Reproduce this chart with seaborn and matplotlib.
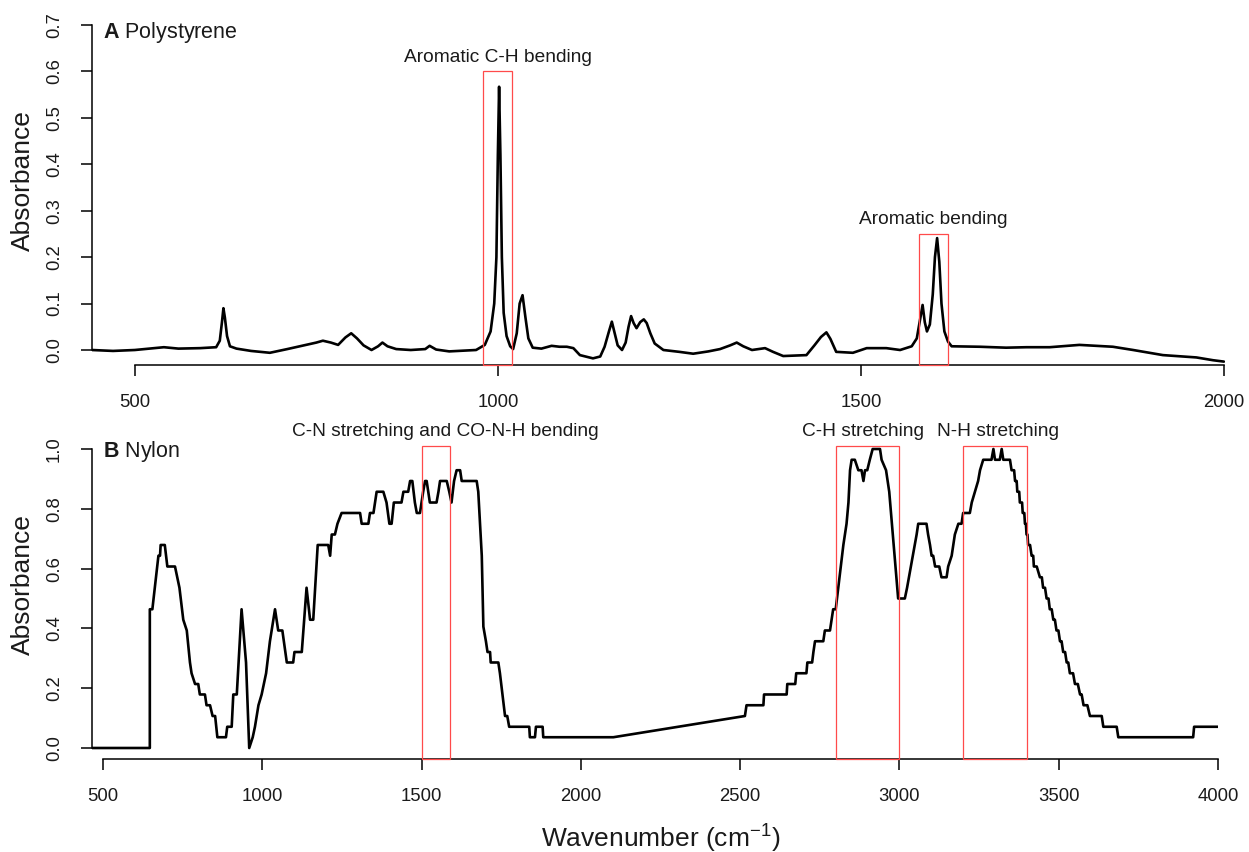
import matplotlib
matplotlib.use("Agg")
import matplotlib.pyplot as plt
import seaborn as sns
from matplotlib.patches import Rectangle

# ---------------- data: (A) polystyrene ----------------
ps_wavenumber = [441, 470, 500, 520, 540, 560, 590, 612, 617, 620, 622, 624, 627, 631, 640, 660,
                 686, 710, 736, 750, 759, 770, 780, 790, 798, 806, 815, 826, 835, 841, 848, 860,
                 880, 900, 906, 915, 933, 970, 982, 990, 995, 998, 1000, 1001.7, 1003.5, 1005.5,
                 1008, 1012, 1017, 1021, 1026, 1030, 1034, 1038, 1042, 1048, 1060, 1074, 1085,
                 1095, 1104, 1113, 1131, 1141, 1147, 1153, 1157, 1161, 1165, 1171, 1176, 1180,
                 1183.5, 1187, 1191, 1196, 1201, 1205, 1210, 1216, 1228, 1250, 1269, 1290, 1306,
                 1320, 1329, 1338, 1350, 1368, 1379, 1393, 1425, 1436, 1445, 1452.5, 1458, 1466,
                 1489, 1508, 1535, 1554, 1570, 1577, 1582, 1585, 1588, 1591, 1595, 1599, 1602,
                 1605, 1608, 1611, 1615, 1620, 1625, 1664, 1700, 1728, 1760, 1801, 1847, 1875,
                 1916, 1962, 1985, 2000]
ps_absorbance = [0.0, -0.002, 0.0, 0.003, 0.006, 0.003, 0.004, 0.006, 0.02, 0.06, 0.09, 0.07, 0.03,
                 0.008, 0.003, -0.002, -0.006, 0.002, 0.011, 0.016, 0.02, 0.016, 0.011, 0.027,
                 0.036, 0.025, 0.01, 0.0, 0.008, 0.016, 0.008, 0.002, 0.0, 0.002, 0.009, 0.001,
                 -0.003, 0.0, 0.011, 0.04, 0.1, 0.2, 0.42, 0.567, 0.42, 0.2, 0.08, 0.03, 0.008,
                 0.002, 0.036, 0.1, 0.118, 0.07, 0.025, 0.005, 0.003, 0.009, 0.007, 0.007, 0.004,
                 -0.011, -0.018, -0.014, 0.007, 0.04, 0.061, 0.035, 0.01, 0.0, 0.016, 0.05, 0.073,
                 0.058, 0.047, 0.06, 0.066, 0.058, 0.036, 0.014, 0.0, -0.004, -0.008, -0.003,
                 0.002, 0.01, 0.016, 0.008, 0.0, 0.004, -0.004, -0.013, -0.011, 0.01, 0.028,
                 0.038, 0.024, -0.004, -0.006, 0.004, 0.004, 0.0, 0.008, 0.025, 0.07, 0.097, 0.06,
                 0.04, 0.055, 0.12, 0.2, 0.241, 0.19, 0.1, 0.04, 0.018, 0.008, 0.007, 0.005, 0.006,
                 0.006, 0.011, 0.007, 0.0, -0.011, -0.016, -0.022, -0.025]

# ---------------- data: (B) nylon ----------------
ny_wavenumber = [465, 647, 647, 655, 674, 679, 681, 694, 702, 726, 733, 740, 752, 763, 773, 778,
                 789, 799, 804, 820, 825, 836, 844, 852, 859, 886, 890, 904, 909, 920, 935, 949,
                 959, 970, 977, 988, 998, 1012, 1024, 1040, 1050, 1063, 1077, 1097, 1101, 1124,
                 1139, 1150, 1160, 1174, 1207, 1213, 1218, 1228, 1236, 1249, 1307, 1312, 1333,
                 1338, 1349, 1359, 1380, 1390, 1399, 1406, 1413, 1437, 1443, 1458, 1464, 1471,
                 1479, 1485, 1495, 1505, 1511, 1516, 1526, 1547, 1553, 1558, 1579, 1587, 1594,
                 1602, 1610, 1621, 1626, 1673, 1678, 1689, 1694, 1702, 1707, 1715, 1717, 1741,
                 1746, 1762, 1769, 1775, 1838, 1840, 1856, 1859, 1880, 1882, 2102, 2515, 2520,
                 2573, 2575, 2646, 2648, 2673, 2676, 2708, 2711, 2726, 2730, 2735, 2761, 2766,
                 2782, 2787, 2792, 2800, 2808, 2816, 2824, 2834, 2840, 2845, 2850, 2860, 2871,
                 2881, 2887, 2892, 2899, 2907, 2916, 2939, 2944, 2958, 2968, 2996, 3017, 3024,
                 3030, 3036, 3042, 3048, 3054, 3059, 3085, 3090, 3096, 3101, 3106, 3112, 3125,
                 3132, 3148, 3153, 3164, 3174, 3185, 3195, 3200, 3221, 3227, 3237, 3247, 3253,
                 3263, 3289, 3295, 3300, 3315, 3321, 3326, 3347, 3352, 3360, 3363, 3368, 3370,
                 3376, 3378, 3385, 3387, 3392, 3394, 3397, 3399, 3402, 3404, 3410, 3415, 3420,
                 3422, 3431, 3441, 3447, 3451, 3457, 3462, 3468, 3472, 3478, 3483, 3488, 3493,
                 3499, 3504, 3509, 3514, 3520, 3525, 3530, 3535, 3545, 3551, 3560, 3567, 3572,
                 3578, 3590, 3598, 3635, 3640, 3682, 3687, 3922, 3925, 4000]
ny_absorbance = [0.0, 0.0, 0.464, 0.464, 0.643, 0.643, 0.679, 0.679, 0.607, 0.607, 0.571, 0.536,
                 0.429, 0.393, 0.286, 0.25, 0.214, 0.214, 0.179, 0.179, 0.143, 0.143, 0.107,
                 0.107, 0.036, 0.036, 0.071, 0.071, 0.179, 0.179, 0.464, 0.286, 0.0, 0.036, 0.071,
                 0.143, 0.179, 0.25, 0.357, 0.464, 0.393, 0.393, 0.286, 0.286, 0.321, 0.321,
                 0.536, 0.429, 0.429, 0.679, 0.679, 0.643, 0.714, 0.714, 0.75, 0.786, 0.786, 0.75,
                 0.75, 0.786, 0.786, 0.857, 0.857, 0.821, 0.75, 0.75, 0.821, 0.821, 0.857, 0.857,
                 0.893, 0.893, 0.821, 0.786, 0.786, 0.857, 0.893, 0.893, 0.821, 0.821, 0.857,
                 0.893, 0.893, 0.857, 0.821, 0.893, 0.929, 0.929, 0.893, 0.893, 0.857, 0.643,
                 0.406, 0.357, 0.321, 0.321, 0.286, 0.286, 0.25, 0.107, 0.107, 0.071, 0.071,
                 0.036, 0.036, 0.071, 0.071, 0.036, 0.036, 0.107, 0.143, 0.143, 0.179, 0.179,
                 0.214, 0.214, 0.25, 0.25, 0.286, 0.286, 0.321, 0.357, 0.357, 0.393, 0.393,
                 0.429, 0.464, 0.464, 0.536, 0.607, 0.679, 0.75, 0.821, 0.929, 0.964, 0.964,
                 0.929, 0.929, 0.893, 0.929, 0.929, 0.964, 1.0, 1.0, 0.964, 0.929, 0.857, 0.5,
                 0.5, 0.536, 0.571, 0.607, 0.643, 0.679, 0.714, 0.75, 0.75, 0.714, 0.679, 0.643,
                 0.643, 0.607, 0.607, 0.571, 0.571, 0.607, 0.643, 0.714, 0.75, 0.75, 0.786, 0.786,
                 0.821, 0.857, 0.893, 0.929, 0.964, 0.964, 1.0, 0.964, 0.964, 1.0, 0.964, 0.964,
                 0.929, 0.929, 0.893, 0.893, 0.857, 0.857, 0.821, 0.821, 0.786, 0.786, 0.75, 0.75,
                 0.714, 0.714, 0.679, 0.679, 0.643, 0.643, 0.607, 0.607, 0.571, 0.571, 0.536,
                 0.536, 0.5, 0.5, 0.464, 0.464, 0.429, 0.429, 0.393, 0.393, 0.357, 0.357, 0.321,
                 0.321, 0.286, 0.286, 0.25, 0.25, 0.214, 0.214, 0.179, 0.179, 0.143, 0.143,
                 0.107, 0.107, 0.071, 0.071, 0.036, 0.036, 0.071, 0.071]

# ---------------- ticks / labels / annotations ----------------
ps_xticks = [500, 1000, 1500, 2000]
ps_yticks = [0.0, 0.1, 0.2, 0.3, 0.4, 0.5, 0.6, 0.7]
ps_ytick_labels = ["0.0", "0.1", "0.2", "0.3", "0.4", "0.5", "0.6", "0.7"]
ny_xticks = [500, 1000, 1500, 2000, 2500, 3000, 3500, 4000]
ny_yticks = [0.0, 0.2, 0.4, 0.6, 0.8, 1.0]
ny_ytick_labels = ["0.0", "0.2", "0.4", "0.6", "0.8", "1.0"]

ps_band_labels = ["Aromatic C-H bending", "Aromatic bending"]
ps_band_ranges = [(980, 1020), (1580, 1620)]
ps_band_tops = [0.6, 0.25]
ps_label_pos = [(1000, 0.629), (1600, 0.282)]

ny_band_labels = ["C-N stretching and CO-N-H bending", "C-H stretching", "N-H stretching"]
ny_band_ranges = [(1500, 1590), (2800, 3000), (3200, 3400)]
ny_band_top = 1.01
ny_label_pos = [(1575, 1.06), (2885, 1.06), (3310, 1.06)]

# ---------------- style ----------------
sns.set_style("ticks")
plt.rcParams["font.family"] = ["Liberation Sans", "DejaVu Sans"]
plt.rcParams["mathtext.fontset"] = "custom"
plt.rcParams["mathtext.rm"] = "Liberation Sans"
plt.rcParams["mathtext.bf"] = "Liberation Sans:bold"

W, H = 1249, 852
fig = plt.figure(figsize=(W / 100, H / 100), dpi=100)


def axes_px(l, t, r, b):
    return fig.add_axes([l / W, 1 - b / H, (r - l) / W, (b - t) / H])


ax1 = axes_px(92, 18, 1225, 365)
ax2 = axes_px(92, 440, 1218, 759)

sns.lineplot(x=ps_wavenumber, y=ps_absorbance, ax=ax1, color="black", lw=1.9,
             sort=False, estimator=None)
sns.lineplot(x=ny_wavenumber, y=ny_absorbance, ax=ax2, color="black", lw=1.9,
             sort=False, estimator=None)

ax1.set_xlim(441, 2001.5)
ax1.set_ylim(-0.0323, 0.715)
ax2.set_xlim(465.5, 4000)
ax2.set_ylim(-0.0368, 1.0301)

ax1.set_xticks(ps_xticks, labels=[str(v) for v in ps_xticks])
ax1.set_yticks(ps_yticks, labels=ps_ytick_labels)
ax2.set_xticks(ny_xticks, labels=[str(v) for v in ny_xticks])
ax2.set_yticks(ny_yticks, labels=ny_ytick_labels)

ax1.spines["left"].set_bounds(0, 0.7)
ax1.spines["bottom"].set_bounds(500, 2000)
ax2.spines["left"].set_bounds(0, 1.0)
ax2.spines["bottom"].set_bounds(500, 4000)

for ax in (ax1, ax2):
    ax.set_facecolor("none")
    ax.set_xlabel("")
    ax.set_ylabel("")
    for s in ("top", "right"):
        ax.spines[s].set_visible(False)
    for s in ("left", "bottom"):
        ax.spines[s].set_linewidth(1.1)
        ax.spines[s].set_color("black")
    ax.tick_params(direction="out", length=8, width=1.1, colors="black",
                   labelsize=13.3, labelcolor="#1a1a1a")
    ax.tick_params(axis="y", pad=13, labelrotation=90)
    ax.tick_params(axis="x", pad=13)
    for lbl in ax.get_yticklabels():
        lbl.set_va("center")

# red band boxes
y0_1 = ax1.get_ylim()[0]
for (a, b), top in zip(ps_band_ranges, ps_band_tops):
    ax1.add_patch(Rectangle((a, y0_1), b - a, top - y0_1, fill=False,
                            edgecolor="#ff4a4a", lw=0.9, clip_on=False, zorder=3))
for txt, (x, y) in zip(ps_band_labels, ps_label_pos):
    ax1.text(x, y, txt, ha="center", va="center", fontsize=13.8, color="#1a1a1a")

y0_2 = ax2.get_ylim()[0]
for (a, b) in ny_band_ranges:
    ax2.add_patch(Rectangle((a, y0_2), b - a, ny_band_top - y0_2, fill=False,
                            edgecolor="#ff4a4a", lw=0.9, clip_on=False, zorder=3))
for txt, (x, y) in zip(ny_band_labels, ny_label_pos):
    ax2.text(x, y, txt, ha="center", va="center", fontsize=13.8, color="#1a1a1a",
             clip_on=False)

# panel titles
ax1.text(456, 0.683, r"$\mathbf{A}$ Polystyrene", ha="left", va="center",
         fontsize=15.5, color="#1a1a1a")
ax2.text(500, 0.993, r"$\mathbf{B}$ Nylon", ha="left", va="center",
         fontsize=15.5, color="#1a1a1a")

# axis titles
fig.text(23 / W, 1 - 181 / H, "Absorbance", rotation=90, ha="center", va="center",
         fontsize=19, color="#1a1a1a")
fig.text(23 / W, 1 - 585 / H, "Absorbance", rotation=90, ha="center", va="center",
         fontsize=19, color="#1a1a1a")
fig.text(661 / W, 1 - 838 / H, r"Wavenumber (cm$^{-1}$)", ha="center", va="center",
         fontsize=19, color="#1a1a1a")

fig.savefig("out.png", dpi=100, facecolor="white")
